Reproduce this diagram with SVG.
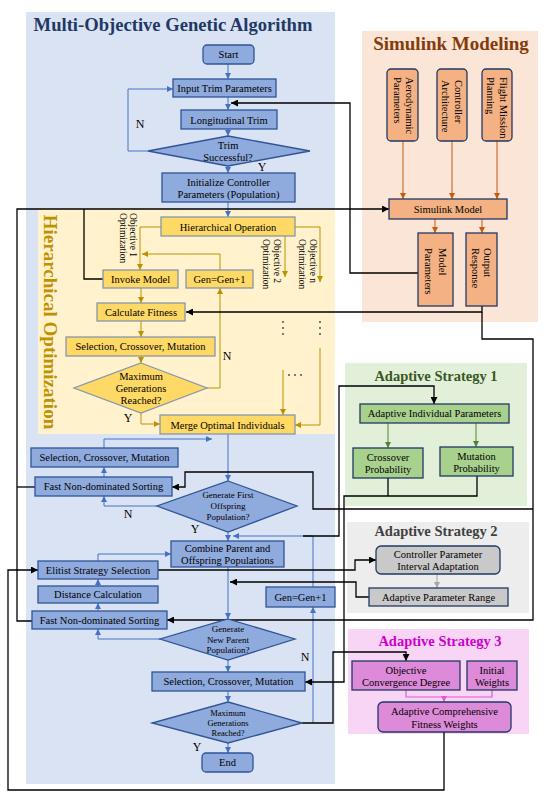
<svg xmlns="http://www.w3.org/2000/svg" width="550" height="798" viewBox="0 0 550 798">
<style>
text{font-family:"Liberation Serif","Times New Roman",serif;fill:#000}
.t{font-size:10.5px;text-anchor:middle}
.ts{font-size:9px;text-anchor:middle}
.tr{font-size:10.5px;text-anchor:start}
.to{font-size:9.5px;text-anchor:start}
.lbl{font-size:12px;text-anchor:middle}
.title{font-weight:bold;text-anchor:middle}
.bb{fill:#8faadc;stroke:#2f5597;stroke-width:1.3}
.yb{fill:#ffd966;stroke:#8497b0;stroke-width:1.3}
.ob{fill:#f4b183;stroke:#203864;stroke-width:1.3}
.gb{fill:#a9d18e;stroke:#203864;stroke-width:1.3}
.sb{fill:#c9c9c9;stroke:#203864;stroke-width:1.3}
.pb{fill:#dd8ad9;stroke:#203864;stroke-width:1.3}
.cb{fill:none;stroke:#4472c4;stroke-width:1}
.cy{fill:none;stroke:#bf9000;stroke-width:1}
.co{fill:none;stroke:#c55a11;stroke-width:1}
.cg{fill:none;stroke:#548235;stroke-width:1}
.cs{fill:none;stroke:#a6a6a6;stroke-width:1}
.cp{fill:none;stroke:#e05ad8;stroke-width:1.2}
.ck{fill:none;stroke:#000;stroke-width:1.3}
</style>
<defs>
<marker id="ab" viewBox="0 0 10 10" refX="10" refY="5" markerWidth="6" markerHeight="6" markerUnits="userSpaceOnUse" orient="auto"><path d="M0,0L10,5L0,10z" fill="#4472c4"/></marker>
<marker id="ay" viewBox="0 0 10 10" refX="10" refY="5" markerWidth="6" markerHeight="6" markerUnits="userSpaceOnUse" orient="auto"><path d="M0,0L10,5L0,10z" fill="#bf9000"/></marker>
<marker id="ao" viewBox="0 0 10 10" refX="10" refY="5" markerWidth="6" markerHeight="6" markerUnits="userSpaceOnUse" orient="auto"><path d="M0,0L10,5L0,10z" fill="#c55a11"/></marker>
<marker id="ag" viewBox="0 0 10 10" refX="10" refY="5" markerWidth="6" markerHeight="6" markerUnits="userSpaceOnUse" orient="auto"><path d="M0,0L10,5L0,10z" fill="#548235"/></marker>
<marker id="as" viewBox="0 0 10 10" refX="10" refY="5" markerWidth="6" markerHeight="6" markerUnits="userSpaceOnUse" orient="auto"><path d="M0,0L10,5L0,10z" fill="#a6a6a6"/></marker>
<marker id="ap" viewBox="0 0 10 10" refX="10" refY="5" markerWidth="6" markerHeight="6" markerUnits="userSpaceOnUse" orient="auto"><path d="M0,0L10,5L0,10z" fill="#e05ad8"/></marker>
<marker id="ak" viewBox="0 0 10 10" refX="10" refY="5" markerWidth="7" markerHeight="7" markerUnits="userSpaceOnUse" orient="auto"><path d="M0,0L10,5L0,10z" fill="#000"/></marker>
</defs>
<rect width="550" height="798" fill="#fff"/>

<!-- panels -->
<g id="panel-moga">
<rect x="26" y="12" width="309" height="772" fill="#dae3f3"/>
<text class="title" x="173" y="31" style="font-size:18.6px;fill:#1f3864">Multi-Objective Genetic Algorithm</text>
</g>
<g id="panel-hier">
<rect x="38" y="209" width="297" height="225" fill="#fff2cc"/>
<text class="title" transform="translate(44,322) rotate(90)" style="font-size:19px;fill:#bf9000">Hierarchical Optimization</text>
</g>
<g id="panel-simulink">
<rect x="362" y="31" width="176" height="291" fill="#fbe5d6"/>
<text class="title" x="451" y="50" style="font-size:19px;fill:#843c0c">Simulink Modeling</text>
</g>
<g id="panel-as1">
<rect x="345" y="363" width="182" height="143" fill="#e2f0d9"/>
<text class="title" x="436" y="381" style="font-size:14.5px;fill:#385723">Adaptive Strategy 1</text>
</g>
<g id="panel-as2">
<rect x="347" y="522" width="182" height="91" fill="#ededed"/>
<text class="title" x="436" y="536" style="font-size:14.5px;fill:#404040">Adaptive Strategy 2</text>
</g>
<g id="panel-as3">
<rect x="348" y="629" width="181" height="105" fill="#f9d5f5"/>
<text class="title" x="440" y="646" style="font-size:14.5px;fill:#cc00cc">Adaptive Strategy 3</text>
</g>

<!-- connectors -->
<g id="connectors">
<path class="cb" d="M228,64V79" marker-end="url(#ab)"/>
<path class="cb" d="M228,97V110" marker-end="url(#ab)"/>
<path class="cb" d="M228,129V136" marker-end="url(#ab)"/>
<path class="cb" d="M148,151H128V89H173" marker-end="url(#ab)"/>
<path class="cb" d="M228,166V173" marker-end="url(#ab)"/>
<path class="cb" d="M228,202V217" marker-end="url(#ab)"/>
<path class="cb" d="M228,434V481" marker-end="url(#ab)"/>
<path class="cb" d="M104,448V439H212" marker-end="url(#ab)"/>
<path class="cb" d="M104,477V467" marker-end="url(#ab)"/>
<path class="cb" d="M157,506H104V496" marker-end="url(#ab)"/>
<path class="cb" d="M228,532V541" marker-end="url(#ab)"/>
<path class="cb" d="M98,561V554H171" marker-end="url(#ab)"/>
<path class="cb" d="M98,586V579" marker-end="url(#ab)"/>
<path class="cb" d="M98,611V603" marker-end="url(#ab)"/>
<path class="cb" d="M160,639H98V629" marker-end="url(#ab)"/>
<path class="cb" d="M228,567V619" marker-end="url(#ab)"/>
<path class="cb" d="M228,660V672" marker-end="url(#ab)"/>
<path class="cb" d="M228,691V702" marker-end="url(#ab)"/>
<path class="cb" d="M228,743V753" marker-end="url(#ab)"/>
<path class="cb" d="M313,723V607" marker-end="url(#ab)"/>
<path class="cb" d="M313,587V536H233" marker-end="url(#ab)"/>

<path class="cy" d="M161,227H140V270" marker-end="url(#ay)"/>
<path class="cy" d="M285,236V277" marker-end="url(#ay)"/>
<path class="cy" d="M295,227H320V282" marker-end="url(#ay)"/>
<path class="cy" d="M220,270V254H142" marker-end="url(#ay)"/>
<path class="cy" d="M141,288V303" marker-end="url(#ay)"/>
<path class="cy" d="M141,321V337" marker-end="url(#ay)"/>
<path class="cy" d="M141,356V363" marker-end="url(#ay)"/>
<path class="cy" d="M207,388H220V288" marker-end="url(#ay)"/>
<path class="cy" d="M141,412V424H160" marker-end="url(#ay)"/>
<path class="cy" d="M283,370V415" marker-end="url(#ay)"/>
<path class="cy" d="M320,348V425H295" marker-end="url(#ay)"/>
<g fill="#404040">
<circle cx="283" cy="322" r="0.9"/><circle cx="283" cy="328" r="0.9"/><circle cx="283" cy="334" r="0.9"/>
<circle cx="320" cy="322" r="0.9"/><circle cx="320" cy="328" r="0.9"/><circle cx="320" cy="334" r="0.9"/>
<circle cx="289" cy="375" r="0.9"/><circle cx="295" cy="375" r="0.9"/><circle cx="301" cy="375" r="0.9"/>
</g>

<path class="co" d="M403,141V199" marker-end="url(#ao)"/>
<path class="co" d="M452,141V199" marker-end="url(#ao)"/>
<path class="co" d="M497,141V199" marker-end="url(#ao)"/>
<path class="co" d="M435,219V233" marker-end="url(#ao)"/>
<path class="co" d="M482,219V233" marker-end="url(#ao)"/>

<path class="cg" d="M388,423V448" marker-end="url(#ag)"/>
<path class="cg" d="M476,423V447" marker-end="url(#ag)"/>
<path class="cs" d="M437,574V588" marker-end="url(#as)"/>
<path class="cp" d="M406,690V697H492V690"/>
<path class="cp" d="M444,697V702" marker-end="url(#ap)"/>

<path class="ck" d="M418,273H350V103H231" marker-end="url(#ak)"/>
<path class="ck" d="M32,621H17V209H389" marker-end="url(#ak)"/>
<path class="ck" d="M35,487H17"/>
<path class="ck" d="M103,279H84V209"/>
<path class="ck" d="M482,306V312H186" marker-end="url(#ak)"/>
<path class="ck" d="M482,312V339H533V620H167" marker-end="url(#ak)"/>
<path class="ck" d="M533,509H313V472H185V487H172" marker-end="url(#ak)"/>
<path class="ck" d="M388,478V496"/>
<path class="ck" d="M477,476V496H344V682H305" marker-end="url(#ak)"/>
<path class="ck" d="M303,536H339V386H434V404" marker-end="url(#ak)"/>
<path class="ck" d="M158,570H355V560H376" marker-end="url(#ak)"/>
<path class="ck" d="M369,597H356V582H230" marker-end="url(#ak)"/>
<path class="ck" d="M302,723H333V652H406V661" marker-end="url(#ak)"/>
<path class="ck" d="M444,732V790H8V570H38" marker-end="url(#ak)"/>
</g>

<!-- MOGA nodes -->
<g id="start"><rect class="bb" x="203" y="45" width="51" height="19" rx="4"/><text class="t" x="228.5" y="58">Start</text></g>
<g id="input-trim"><rect class="bb" x="173" y="79" width="103" height="18"/><text class="t" x="224.5" y="91.5">Input Trim Parameters</text></g>
<g id="long-trim"><rect class="bb" x="181" y="110" width="96" height="19"/><text class="t" x="229" y="123.5">Longitudinal Trim</text></g>
<g id="trim-ok"><polygon class="bb" points="228,136 310,151 228,166 148,151"/><text class="t" x="228" y="149">Trim</text><text class="t" x="228" y="161">Successful?</text></g>
<text class="lbl" x="140" y="128">N</text>
<text class="lbl" x="262" y="171">Y</text>
<g id="init-params"><rect class="bb" x="162" y="173" width="133" height="29"/><text class="t" x="228.5" y="185.5">Initialize Controller</text><text class="t" x="228.5" y="197.5">Parameters (Population)</text></g>

<!-- hierarchical nodes -->
<g id="hier-op"><rect class="yb" x="161" y="217" width="134" height="19"/><text class="t" x="228" y="230.5">Hierarchical Operation</text></g>
<g id="obj1-label"><text class="to" transform="translate(130,213) rotate(90)">Objective 1</text><text class="to" transform="translate(119.5,213) rotate(90)">Optimization</text></g>
<g id="obj2-label"><text class="to" transform="translate(274,239) rotate(90)">Objective 2</text><text class="to" transform="translate(263,239) rotate(90)">Optimization</text></g>
<g id="objn-label"><text class="to" transform="translate(310,239) rotate(90)">Objective n</text><text class="to" transform="translate(299,239) rotate(90)">Optimization</text></g>
<g id="invoke-model"><rect class="yb" x="103" y="270" width="75" height="18"/><text class="t" x="140.5" y="282.5">Invoke Model</text></g>
<g id="gen-y"><rect class="yb" x="186" y="270" width="67" height="18"/><text class="t" x="219.5" y="282.5">Gen=Gen+1</text></g>
<g id="calc-fitness"><rect class="yb" x="97" y="303" width="88" height="18"/><text class="t" x="141" y="315.5">Calculate Fitness</text></g>
<g id="scm-y"><rect class="yb" x="66" y="337" width="149" height="19"/><text class="t" x="140.5" y="350">Selection, Crossover, Mutation</text></g>
<g id="maxgen-y"><polygon class="yb" points="141,363 207,388 141,413 74,388"/><text class="t" x="141" y="379.5">Maximum</text><text class="t" x="141" y="391.5">Generations</text><text class="t" x="141" y="403.5">Reached?</text></g>
<text class="lbl" x="227" y="360">N</text>
<text class="lbl" x="128" y="422">Y</text>
<g id="merge"><rect class="yb" x="160" y="415" width="135" height="19"/><text class="t" x="227.5" y="428.5">Merge Optimal Individuals</text></g>

<!-- lower MOGA -->
<g id="scm-1"><rect class="bb" x="31" y="448" width="147" height="19"/><text class="t" x="104.5" y="461">Selection, Crossover, Mutation</text></g>
<g id="fnds-1"><rect class="bb" x="35" y="477" width="137" height="19"/><text class="t" x="103.5" y="490">Fast Non-dominated Sorting</text></g>
<g id="gen-first"><polygon class="bb" points="228,481 297,506 228,532 157,506"/><text class="ts" x="228" y="498">Generate First</text><text class="ts" x="228" y="509">Offspring</text><text class="ts" x="228" y="520">Population?</text></g>
<text class="lbl" x="128" y="518">N</text>
<text class="lbl" x="195" y="533">Y</text>
<g id="combine"><rect class="bb" x="171" y="541" width="113" height="26"/><text class="t" x="227.5" y="551.5">Combine Parent and</text><text class="t" x="227.5" y="564">Offspring Populations</text></g>
<g id="elitist"><rect class="bb" x="38" y="561" width="120" height="18"/><text class="t" x="98" y="573.5">Elitist Strategy Selection</text></g>
<g id="distance"><rect class="bb" x="38" y="586" width="120" height="17"/><text class="t" x="98" y="598">Distance Calculation</text></g>
<g id="fnds-2"><rect class="bb" x="32" y="611" width="135" height="18"/><text class="t" x="99.5" y="623.5">Fast Non-dominated Sorting</text></g>
<g id="gen-b"><rect class="bb" x="266" y="587" width="69" height="20"/><text class="t" x="300.5" y="600.5">Gen=Gen+1</text></g>
<g id="gen-new"><polygon class="bb" points="228,619 295,639 228,660 160,639"/><text class="ts" x="228" y="632">Generate</text><text class="ts" x="228" y="642.5">New Parent</text><text class="ts" x="228" y="653">Population?</text></g>
<text class="lbl" x="305" y="661">N</text>
<g id="scm-2"><rect class="bb" x="152" y="672" width="153" height="19"/><text class="t" x="228.5" y="685">Selection, Crossover, Mutation</text></g>
<g id="maxgen-b"><polygon class="bb" points="228,702 302,723 228,743 152,723"/><text class="ts" x="228" y="716" style="font-size:8.5px">Maximum</text><text class="ts" x="228" y="726" style="font-size:8.5px">Generations</text><text class="ts" x="228" y="736" style="font-size:8.5px">Reached?</text></g>
<text class="lbl" x="197" y="751">Y</text>
<g id="end"><rect class="bb" x="202" y="753" width="51" height="19" rx="4"/><text class="t" x="227.5" y="766">End</text></g>

<!-- Simulink nodes -->
<g id="aero"><rect class="ob" x="387" y="69" width="31" height="72" rx="4"/><text class="tr" transform="translate(405.5,77) rotate(90)">Aerodynamic</text><text class="tr" transform="translate(393.5,77) rotate(90)">Parameters</text></g>
<g id="ctrl-arch"><rect class="ob" x="437" y="69" width="30" height="72" rx="4"/><text class="tr" transform="translate(455,80) rotate(90)">Controller</text><text class="tr" transform="translate(442,80) rotate(90)">Architecture</text></g>
<g id="flight"><rect class="ob" x="482" y="69" width="30" height="72" rx="4"/><text class="tr" transform="translate(500,77) rotate(90)">Flight Mission</text><text class="tr" transform="translate(487,77) rotate(90)">Planning</text></g>
<g id="sim-model"><rect class="ob" x="389" y="199" width="118" height="20"/><text class="t" x="448" y="212.5">Simulink Model</text></g>
<g id="model-params"><rect class="ob" x="418" y="233" width="35" height="73"/><text class="tr" transform="translate(439,248) rotate(90)">Model</text><text class="tr" transform="translate(425,248) rotate(90)">Parameters</text></g>
<g id="output-resp"><rect class="ob" x="466" y="233" width="31" height="73"/><text class="tr" transform="translate(484,248) rotate(90)">Output</text><text class="tr" transform="translate(472,248) rotate(90)">Response</text></g>

<!-- AS1 -->
<g id="adapt-ind"><rect class="gb" x="360" y="404" width="149" height="19"/><text class="t" x="434.5" y="417">Adaptive Individual Parameters</text></g>
<g id="crossover-p"><rect class="gb" x="353" y="448" width="70" height="30"/><text class="t" x="388" y="460.5">Crossover</text><text class="t" x="388" y="472.5">Probability</text></g>
<g id="mutation-p"><rect class="gb" x="440" y="447" width="73" height="29"/><text class="t" x="476.5" y="459.5">Mutation</text><text class="t" x="476.5" y="471.5">Probability</text></g>

<!-- AS2 -->
<g id="ctrl-interval"><rect class="sb" x="376" y="546" width="124" height="28" rx="5"/><text class="t" x="438" y="557.5">Controller Parameter</text><text class="t" x="438" y="570">Interval Adaptation</text></g>
<g id="param-range"><rect class="sb" x="369" y="588" width="139" height="18"/><text class="t" x="438.5" y="600.5">Adaptive Parameter Range</text></g>

<!-- AS3 -->
<g id="obj-conv"><rect class="pb" x="352" y="661" width="108" height="29"/><text class="t" x="406" y="673.5">Objective</text><text class="t" x="406" y="685.5">Convergence Degree</text></g>
<g id="init-weights"><rect class="pb" x="467" y="661" width="50" height="29"/><text class="t" x="492" y="673.5">Initial</text><text class="t" x="492" y="685.5">Weights</text></g>
<g id="adapt-weights"><rect class="pb" x="378" y="702" width="133" height="30" rx="5"/><text class="t" x="444.5" y="715">Adaptive Comprehensive</text><text class="t" x="444.5" y="727.5">Fitness Weights</text></g>
</svg>
